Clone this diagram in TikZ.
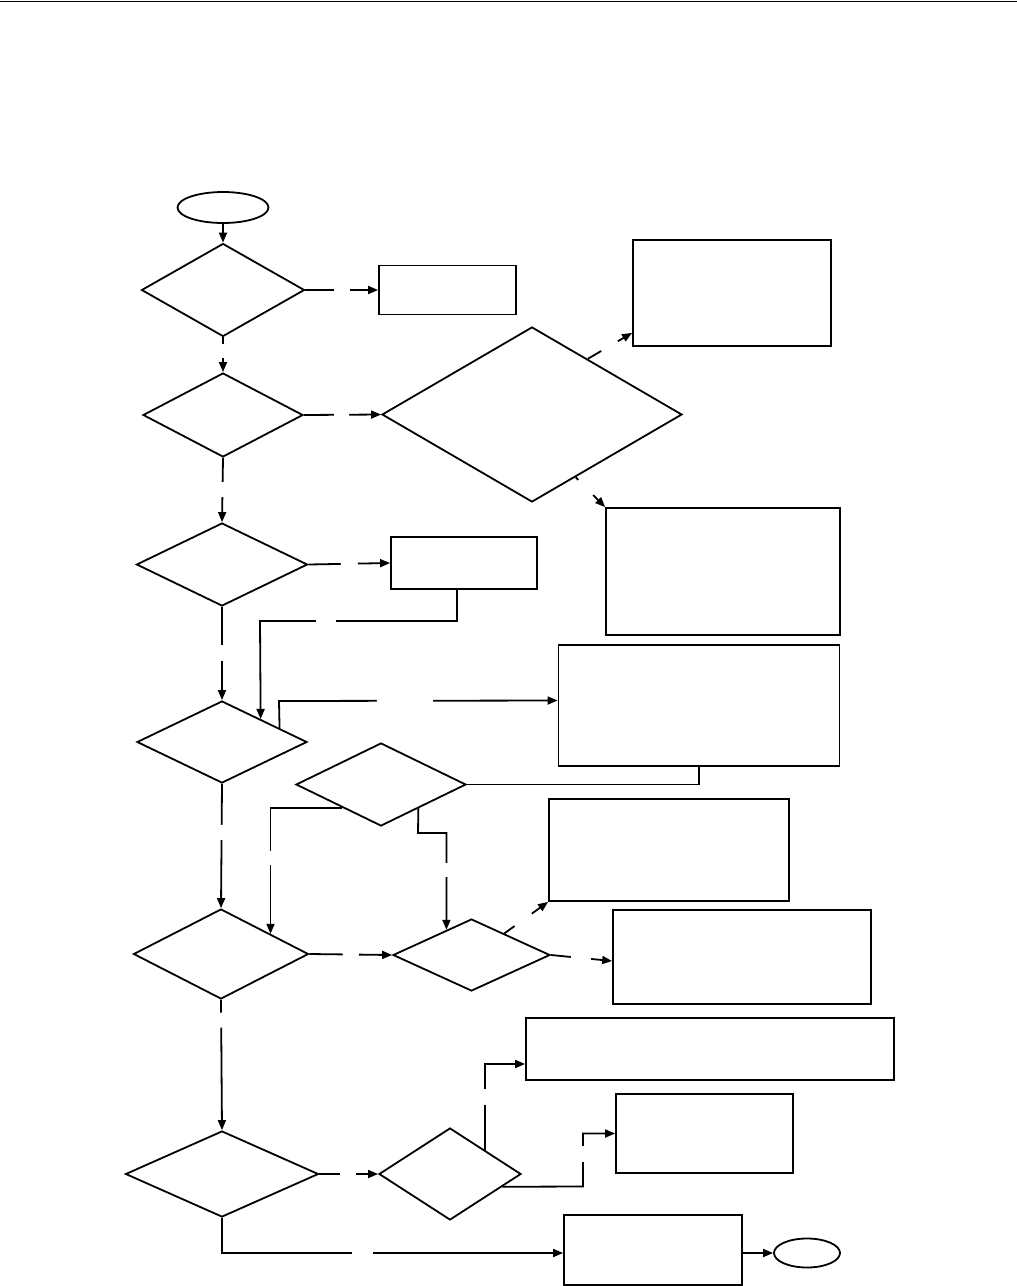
\documentclass[tikz,border=0pt]{standalone}
\usepackage{tikz}
\usetikzlibrary{arrows.meta,calc,shapes.geometric}

\begin{document}
\begin{tikzpicture}[x=1pt,y=-1pt,line width=1.8pt,
  dec/.style={diamond,draw,inner sep=0pt},
  blk/.style={rectangle,draw,inner sep=0pt},
  term/.style={ellipse,draw,inner sep=0pt},
  flow/.style={-{Triangle[length=10pt,width=8pt]}},
  gap/.style={fill=white,inner sep=0pt,minimum height=6pt,sloped}]
 \path[use as bounding box] (0,0) rectangle (1017,1286);
 \draw[line width=1.5pt] (0,1.5) -- (1017,1.5);
 % terminals
 \node[term,minimum width=91pt,minimum height=31pt] (start) at (223,207.5) {};
 \node[term,minimum width=66pt,minimum height=29pt] (end)   at (807,1253) {};
 % decisions
 \node[dec,minimum width=163pt,minimum height=93pt]  (d1)  at (223,290)    {};
 \node[dec,minimum width=160pt,minimum height=84pt]  (d2)  at (223,415)    {};
 \node[dec,minimum width=300pt,minimum height=175pt] (d3)  at (532,414.5)  {};
 \node[dec,minimum width=171pt,minimum height=83pt]  (d4)  at (222,564.5)  {};
 \node[dec,minimum width=170pt,minimum height=82pt]  (d5)  at (222,742)    {};
 \node[dec,minimum width=170pt,minimum height=83pt]  (d6)  at (381,784.5)  {};
 \node[dec,minimum width=175pt,minimum height=90pt]  (d7)  at (221,954)    {};
 \node[dec,minimum width=157pt,minimum height=72pt]  (d8)  at (471.5,955)  {};
 \node[dec,minimum width=193pt,minimum height=86pt]  (d9)  at (222,1174)   {};
 \node[dec,minimum width=142pt,minimum height=92pt]  (d10) at (450,1174)   {};
 % blocks
 \node[blk,minimum width=137pt,minimum height=49pt]  (b1)  at (447.5,290)  {};
 \node[blk,minimum width=198pt,minimum height=106pt] (b2)  at (732,293)    {};
 \node[blk,minimum width=234pt,minimum height=127pt] (b3)  at (723,571.5)  {};
 \node[blk,minimum width=146pt,minimum height=52pt]  (b4)  at (464,563)    {};
 \node[blk,minimum width=281pt,minimum height=121pt] (b5)  at (699,705.5)  {};
 \node[blk,minimum width=240pt,minimum height=102pt] (b6)  at (669,850)    {};
 \node[blk,minimum width=258pt,minimum height=94pt]  (b7)  at (742,957)    {};
 \node[blk,minimum width=368pt,minimum height=62pt]  (b8)  at (710,1049)   {};
 \node[blk,minimum width=177pt,minimum height=79pt]  (b9)  at (704.5,1133.5) {};
 \node[blk,minimum width=178pt,minimum height=70pt]  (b10) at (653,1250)   {};
 % points on the diamond edges
 \coordinate (d3a) at ($(d3.north)!0.37!(d3.east)$);
 \coordinate (d3b) at ($(d3.south)!0.29!(d3.east)$);
 \coordinate (d5a) at ($(d5.north)!0.45!(d5.east)$);
 \coordinate (d5b) at ($(d5.north)!0.67!(d5.east)$);
 \coordinate (d6a) at ($(d6.west)!0.55!(d6.south)$);
 \coordinate (d6b) at ($(d6.south)!0.435!(d6.east)$);
 \coordinate (d7a) at ($(d7.north)!0.56!(d7.east)$);
 \coordinate (d8a) at ($(d8.west)!0.684!(d8.north)$);
 \coordinate (d8b) at ($(d8.north)!0.414!(d8.east)$);
 \coordinate (d10a) at ($(d10.north)!0.49!(d10.east)$);
 \coordinate (d10b) at ($(d10.south)!0.728!(d10.east)$);
 % connectors
 \draw[flow] (start.south) -- (d1.north);
 \draw[flow] (d1.east) -- node[gap,minimum width=16pt,pos=0.51]{} (b1.west);
 \draw[flow] (d1.south) -- node[gap,minimum width=14pt,pos=0.38]{} (d2.north);
 \draw[flow] (d2.east) -- node[gap,minimum width=15pt,pos=0.49]{} (d3.west);
 \draw[flow] (d3a) -- node[gap,minimum width=19pt,pos=0.49]{} ([yshift=14pt]b2.south west);
 \draw[flow] (d3b) -- node[gap,minimum width=21pt,pos=0.34]{} (b3.north west);
 \draw[flow] (d2.south) -- node[gap,minimum width=15pt,pos=0.495]{} (d4.north);
 \draw[flow] (d4.east) -- node[gap,minimum width=17pt,pos=0.5]{} (b4.west);
 \draw[flow] ([xshift=-7pt]b4.south) -- (457,621) -- node[gap,minimum width=20pt,pos=0.665]{} (260,621) -- (d5a);
 \draw[flow] (d4.south) -- node[gap,minimum width=16pt,pos=0.49]{} (d5.north);
 \draw[flow] (d5b) -- (279,701) -- node[gap,minimum width=56pt,pos=0.452]{} ([yshift=5pt]b5.west);
 \draw (b5.south) |- (d6.east);
 \draw[flow] (d6a) -| node[gap,minimum width=14pt,pos=0.7]{} (d7a);
 \draw[flow] (d6b) -- (418,833) -| node[gap,minimum width=14pt,pos=0.69]{} (d8a);
 \draw[flow] (d5.south) -- node[gap,minimum width=15pt,pos=0.39]{} (d7.north);
 \draw[flow] (d7.east) -- node[gap,minimum width=16pt,pos=0.5]{} (d8.west);
 \draw[flow] (d8b) -- node[gap,minimum width=21pt,pos=0.43]{} (b6.south west);
 \draw[flow] (d8.east) -- node[gap,minimum width=20pt,pos=0.49]{} ([yshift=-4pt]b7.west);
 \draw[flow] (d7.south) -- node[gap,minimum width=15pt,pos=0.155]{} (d9.north);
 \draw[flow] (d9.east) -- node[gap,minimum width=16pt,pos=0.49]{} (d10.west);
 \draw[flow] (d10a) |- node[gap,minimum width=16pt,pos=0.31]{} ([yshift=-15pt]b8.west);
 \draw[flow] (d10b) -- (583,1186.5) |- node[gap,minimum width=16pt,pos=0.31]{} (b9.west);
 \draw[flow] (d9.south) |- node[gap,minimum width=21pt,pos=0.706]{} ([yshift=-3pt]b10.west);
 \draw[flow] (b10.east |- end.west) -- (end.west);
\end{tikzpicture}
\end{document}
